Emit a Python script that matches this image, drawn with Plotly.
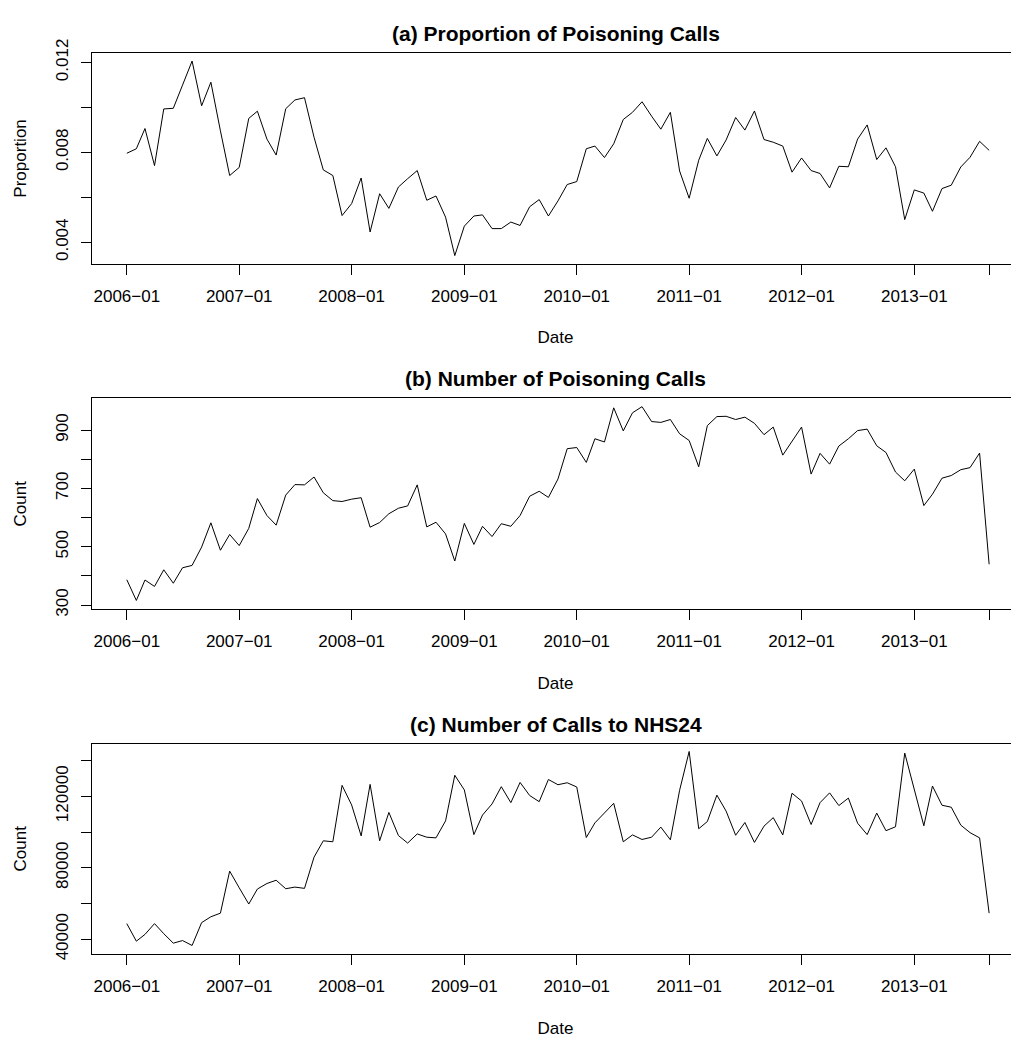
import pandas as pd
import plotly.graph_objects as go

# Monthly series, 2006-01 .. 2013-09
months = pd.date_range("2006-01-01", periods=93, freq="MS")

proportion = [
    0.00796, 0.00816, 0.00906, 0.00741, 0.00993, 0.00996, 0.01099, 0.01206, 0.01007, 0.01112, 0.00896, 0.00697,
    0.00733, 0.00951, 0.00983, 0.00859, 0.00788, 0.00994, 0.01033, 0.01043, 0.00867, 0.00722, 0.00697, 0.00519,
    0.00572, 0.00686, 0.00446, 0.00616, 0.00551, 0.00646, 0.00683, 0.00719, 0.00587, 0.00606, 0.00512, 0.00341,
    0.00472, 0.00517, 0.00522, 0.00461, 0.00461, 0.00490, 0.00475, 0.00558, 0.00590, 0.00517, 0.00584, 0.00657,
    0.00670, 0.00816, 0.00828, 0.00777, 0.00838, 0.00946, 0.00978, 0.01025, 0.00961, 0.00903, 0.00978, 0.00717,
    0.00596, 0.00765, 0.00862, 0.00784, 0.00855, 0.00955, 0.00899, 0.00984, 0.00857, 0.00845, 0.00828, 0.00712,
    0.00775, 0.00719, 0.00706, 0.00642, 0.00738, 0.00736, 0.00859, 0.00922, 0.00768, 0.00820, 0.00736, 0.00501,
    0.00633, 0.00619, 0.00538, 0.00639, 0.00654, 0.00735, 0.00778, 0.00849, 0.00809,
]

poison_calls = [
    387, 316, 386, 364, 421, 375, 428, 436, 499, 582, 488, 542,
    504, 563, 665, 607, 574, 677, 713, 712, 739, 685, 658, 655,
    663, 668, 567, 583, 613, 632, 640, 712, 568, 584, 544, 451,
    580, 508, 570, 535, 579, 570, 607, 673, 690, 669, 732, 836,
    840, 789, 870, 859, 976, 897, 959, 980, 929, 926, 936, 887,
    864, 774, 915, 946, 947, 936, 944, 923, 884, 910, 814, 862,
    910, 749, 820, 783, 845, 870, 898, 903, 846, 823, 756, 726,
    766, 641, 680, 735, 744, 764, 771, 821, 440,
]

nhs24_calls = [
    48750, 38900, 42700, 48750, 43100, 37800, 39260, 36520, 49300, 52580, 54590, 78130,
    68800, 59700, 68100, 71200, 73020, 68280, 69190, 68460, 85980, 95100, 94560, 126130,
    115180, 97840, 126680, 95100, 110980, 98030, 93830, 98940, 97110, 96750, 106240, 131790,
    123580, 98570, 109520, 115730, 125400, 116460, 127770, 120470, 117000, 129410, 126490, 127590,
    125220, 96930, 105140, 110980, 116090, 94560, 98390, 95840, 97110, 102770, 95650, 123390,
    145110, 101860, 105870, 120660, 111710, 98210, 105330, 94190, 103320, 108060, 98390, 121750,
    117370, 104230, 116460, 121930, 114820, 119010, 104960, 98570, 110620, 100760, 102950, 144200,
    123030, 103500, 125770, 115000, 113900, 103870, 99670, 96750, 54590,
]

titles = ["(a) Proportion of Poisoning Calls", "(b) Number of Poisoning Calls", "(c) Number of Calls to NHS24"]
y_titles = ["Proportion", "Count", "Count"]

x_tickvals = [f"{y}-01-01" for y in range(2006, 2014)] + ["2013-09-01"]
x_ticktext = [f"{y}\u221201" for y in range(2006, 2014)] + [""]

y_tickvals = [
    [0.004, 0.006, 0.008, 0.010, 0.012],
    [300, 400, 500, 600, 700, 800, 900],
    [40000, 60000, 80000, 100000, 120000, 140000],
]
y_ticktext = [
    ["0.004", "", "0.008", "", "0.012"],
    ["300", "", "500", "", "700", "", "900"],
    ["40000", "", "80000", "", "120000", ""],
]
y_ranges = [[0.003056, 0.012404], [286.6, 1008], [31790, 149470]]

# page body has an 8px default margin; size the figure so it fills the window
OFF = 8
W, H = 1019 - OFF, 1046 - OFF
boxes = [(39 - OFF, 254 - OFF), (392 - OFF, 607.3 - OFF), (745 - OFF, 960 - OFF)]
left_px = 92 - OFF

FONT = "Liberation Sans, Arial, Helvetica, sans-serif"
fs = 17

fig = go.Figure()
series = [proportion, poison_calls, nhs24_calls]
for i, s in enumerate(series):
    fig.add_trace(go.Scatter(
        x=months, y=s, mode="lines",
        line=dict(color="black", width=1),
        xaxis="x" if i == 0 else f"x{i+1}",
        yaxis="y" if i == 0 else f"y{i+1}",
        showlegend=False,
    ))

layout = dict(
    width=W, height=H,
    margin=dict(l=0, r=0, t=0, b=0),
    paper_bgcolor="white", plot_bgcolor="white",
    font=dict(family=FONT, size=fs, color="black"),
    showlegend=False,
    annotations=[],
)

for i in range(3):
    top, bot = boxes[i]
    dom = [1 - bot / H, 1 - top / H]
    xn = "xaxis" if i == 0 else f"xaxis{i+1}"
    yn = "yaxis" if i == 0 else f"yaxis{i+1}"
    ya = "y" if i == 0 else f"y{i+1}"
    xa = "x" if i == 0 else f"x{i+1}"
    layout[xn] = dict(
        domain=[left_px / W, 1.0], anchor=ya, type="date",
        range=["2005-09-10", "2013-12-07"],
        tickmode="array", tickvals=x_tickvals, ticktext=x_ticktext,
        ticks="outside", ticklen=10, tickwidth=1, tickcolor="black",
        ticklabelstandoff=7,
        showline=True, linecolor="black", linewidth=1, mirror=True,
        showgrid=False, zeroline=False,
        tickfont=dict(size=fs),
        title=dict(text="Date", font=dict(size=fs), standoff=26),
    )
    layout[yn] = dict(
        domain=dom, anchor=xa,
        range=y_ranges[i],
        tickmode="array", tickvals=y_tickvals[i], ticktext=y_ticktext[i],
        ticks="outside", ticklen=10, tickwidth=1, tickcolor="black",
        tickangle=-90, ticklabelstandoff=6,
        showline=True, linecolor="black", linewidth=1, mirror=False,
        showgrid=False, zeroline=False,
        tickfont=dict(size=fs),
        title=dict(text=y_titles[i], font=dict(size=fs), standoff=22),
    )
    layout["annotations"].append(dict(
        text=f"<b>{titles[i]}</b>", xref="paper", yref="paper",
        x=(left_px + 1019 - OFF) / 2 / W, y=1 - (top - 20) / H,
        xanchor="center", yanchor="middle", showarrow=False,
        font=dict(size=21, family=FONT, color="black"),
    ))

fig.update_layout(**layout)
fig.write_html("out.html")
